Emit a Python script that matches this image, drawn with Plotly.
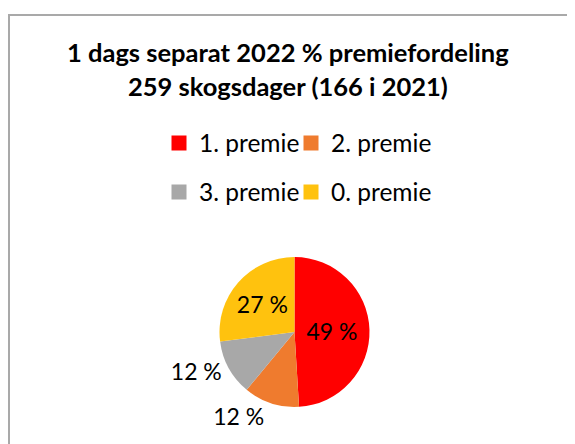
import plotly.graph_objects as go

# Data
categories = ["1. premie", "2. premie", "3. premie", "0. premie"]
values = [127, 31, 31, 70]
colors = ["#ff0000", "#ef7b2e", "#a8a8a8", "#ffc20e"]
text_positions = ["inside", "outside", "outside", "inside"]
title_lines = ["1 dags separat 2022 % premiefordeling", "259 skogsdager (166 i 2021)"]

total = sum(values)
pct_text = [f"{round(v / total * 100)} %" for v in values]

FONT = "Lato"
W, H = 575, 444
OFF = 8  # page body margin
ML, MT = 1, 7
PW, PH = W - ML, H - MT

def px_x(px):
    return (px - OFF - ML) / PW

def px_y(py):
    return (H - (py - OFF)) / PH

fig = go.Figure()

fig.add_trace(go.Pie(
    labels=categories,
    values=values,
    text=pct_text,
    textinfo="text",
    textposition=text_positions,
    insidetextorientation="horizontal",
    marker=dict(colors=colors),
    sort=False,
    direction="clockwise",
    rotation=0,
    showlegend=False,
    textfont=dict(family=FONT, size=23, color="#000000"),
    domain=dict(x=[px_x(219.5), px_x(369.5)], y=[px_y(407), px_y(257)]),
    hoverinfo="label+percent",
))

# legend entries: 2 x 2 grid, one legend per entry
legend_names = ["legend", "legend2", "legend3", "legend4"]
for cat, col, lg in zip(categories, colors, legend_names):
    fig.add_trace(go.Scatter(
        x=[None], y=[None], mode="markers",
        marker=dict(symbol="square", size=15, color=col),
        name=cat,
        legend=lg,
        showlegend=True,
    ))

legend_common = dict(
    orientation="h",
    font=dict(family=FONT, size=24.5, color="#000000"),
    xanchor="left",
    yanchor="middle",
    bgcolor="rgba(0,0,0,0)",
    itemclick=False,
    itemdoubleclick=False,
)
col_x = [159, 291]
row_y = [143, 192]
legend_layout = {}
for k, lg in enumerate(legend_names):
    legend_layout[lg] = dict(x=px_x(col_x[k % 2]), y=px_y(row_y[k // 2]), **legend_common)

fig.update_layout(
    width=W, height=H,
    margin=dict(l=ML, r=0, t=MT, b=0),
    paper_bgcolor="#ffffff",
    plot_bgcolor="#ffffff",
    xaxis=dict(visible=False),
    yaxis=dict(visible=False),
    annotations=[
        dict(text=f"<b>{title_lines[0]}</b>", x=px_x(287.5), xref="paper", y=px_y(52), yref="paper",
             showarrow=False, xanchor="center", yanchor="middle",
             font=dict(family=FONT, size=25.5, color="#000000")),
        dict(text=f"<b>{title_lines[1]}</b>", x=px_x(287.5), xref="paper", y=px_y(86), yref="paper",
             showarrow=False, xanchor="center", yanchor="middle",
             font=dict(family=FONT, size=25.5, color="#000000")),
    ],
    shapes=[
        dict(type="rect", xref="paper", yref="paper", x0=0, x1=1.2, y0=-0.2, y1=1,
             line=dict(color="#a9a9a9", width=2), fillcolor="rgba(0,0,0,0)", layer="above"),
    ],
    **legend_layout,
)

fig.write_html("out.html")
